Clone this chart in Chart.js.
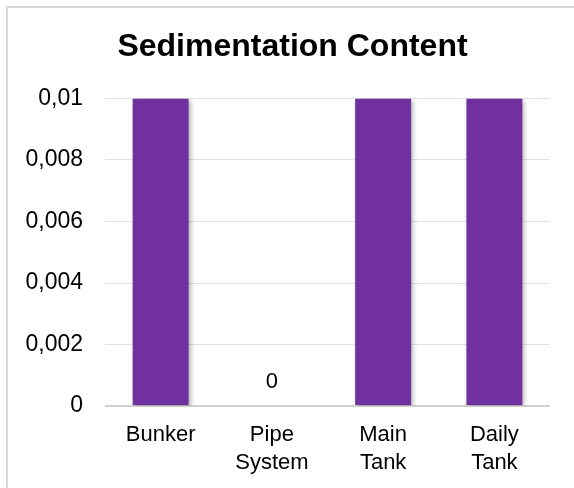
<!DOCTYPE html>
<html>
<head>
<meta charset="utf-8">
<script src="https://cdn.jsdelivr.net/npm/chart.js@4.4.1/dist/chart.umd.min.js"></script>
<style>
  html, body { margin: 0; padding: 0; background: #fff; overflow: hidden; }
  #rand { position: absolute; left: 6px; top: 6px; width: 640px; height: 540px; border: 2px solid #d9d9d9; }
  #graf { position: absolute; left: 0; top: 0; }
</style>
</head>
<body>
<div id="rand"></div>
<canvas id="graf" width="574" height="502"></canvas>
<script>
// dades del gràfic
const categories = [['Bunker'], ['Pipe', 'System'], ['Main', 'Tank'], ['Daily', 'Tank']];
const valors = [0.01, 0, 0.01, 0.01];
const titol = 'Sedimentation Content';
const colorBarra = '#7030A0';

// format amb coma decimal
function ambComa(v) {
    return String(Math.round(v * 1000) / 1000).replace('.', ',');
}

// el títol es centra sobre tot el requadre, no només sobre l'eix
const centrarTitol = {
    id: 'centrarTitol',
    afterLayout(chart) {
        if (chart.titleBlock) chart.titleBlock.left = 35;
    }
};

// ombra suau darrere les barres
const ombra = {
    id: 'ombra',
    beforeDatasetsDraw(chart) {
        const ctx = chart.ctx;
        ctx.save();
        ctx.shadowColor = 'rgba(0,0,0,0.35)';
        ctx.shadowBlur = 5;
        ctx.shadowOffsetX = 2;
        ctx.shadowOffsetY = 2;
    },
    afterDatasetsDraw(chart) {
        chart.ctx.restore();
    }
};

// etiqueta només per als valors zero
const etiquetes = {
    id: 'etiquetes',
    afterDatasetsDraw(chart) {
        const ctx = chart.ctx;
        const meta = chart.getDatasetMeta(0);
        ctx.save();
        ctx.font = '22px Arial, "Liberation Sans"';
        ctx.fillStyle = '#000';
        ctx.textAlign = 'center';
        ctx.textBaseline = 'middle';
        meta.data.forEach((bar, i) => {
            if (valors[i] === 0) ctx.fillText(ambComa(valors[i]), bar.x, bar.y - 24);
        });
        ctx.restore();
    }
};

new Chart(document.getElementById('graf'), {
    type: 'bar',
    data: {
        labels: categories,
        datasets: [{
            data: valors,
            backgroundColor: colorBarra,
            barPercentage: 0.503,
            categoryPercentage: 1
        }]
    },
    options: {
        responsive: false,
        animation: false,
        layout: { padding: { top: 8, right: 24, bottom: 10, left: 0 } },
        plugins: {
            legend: { display: false },
            tooltip: { enabled: false },
            title: {
                display: true,
                text: titol,
                color: '#000',
                font: { family: 'Arial, "Liberation Sans"', size: 32, weight: 'bold', lineHeight: 1.2 },
                padding: { top: 20, bottom: 32 }
            }
        },
        scales: {
            y: {
                min: 0,
                max: 0.01,
                afterFit(scale) { scale.width = 105; },
                ticks: {
                    stepSize: 0.002,
                    padding: 22,
                    color: '#000',
                    font: { family: 'Arial, "Liberation Sans"', size: 23 },
                    callback: v => ambComa(v)
                },
                grid: {
                    drawTicks: false,
                    color: ctx => ctx.tick.value === 0 ? '#d0d0d0' : '#e3e3e3',
                    lineWidth: ctx => ctx.tick.value === 0 ? 2 : 1
                },
                border: { display: false }
            },
            x: {
                ticks: {
                    padding: 15,
                    color: '#000',
                    font: { family: 'Arial, "Liberation Sans"', size: 22, lineHeight: 1.27 },
                    maxRotation: 0
                },
                grid: { display: false, drawTicks: false },
                border: { display: false }
            }
        }
    },
    plugins: [centrarTitol, ombra, etiquetes]
});
</script>
</body>
</html>
